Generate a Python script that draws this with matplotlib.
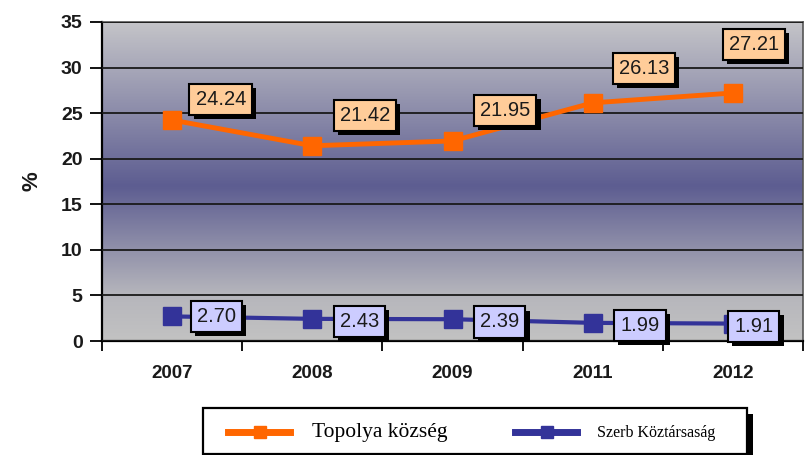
import numpy as np
import matplotlib
matplotlib.use("Agg")
import matplotlib.pyplot as plt
from matplotlib.colors import LinearSegmentedColormap
from matplotlib.lines import Line2D
from matplotlib.patches import Rectangle
import matplotlib.patheffects as pe

years = ["2007", "2008", "2009", "2011", "2012"]
topolya = [24.24, 21.42, 21.95, 26.13, 27.21]
szerbia = [2.70, 2.43, 2.39, 1.99, 1.91]
series_names = ["Topolya község", "Szerb Köztársaság"]

# label offsets (in points) from each marker
top_offsets = [(35, 15), (38, 22), (38, 22), (37, 25), (15, 35)]
srb_offsets = [(32, 0), (34, -2), (34, -2), (34, -2), (15, -2)]

W, H = 809, 455
fig = plt.figure(figsize=(W / 100, H / 100), dpi=100)
ax = fig.add_axes([102 / W, 1 - 341 / H, 701 / W, 319 / H])

x = np.arange(len(years)) + 0.5

# background gradient (gray -> dark purple -> gray)
cmap = LinearSegmentedColormap.from_list(
    "bg", [(0.0, "#c2c2c2"), (5 / 35, "#b6b6bc"), (17 / 35, "#5d5d91"),
           (1.0, "#c4c4c8")])
grad = np.linspace(0, 1, 256).reshape(-1, 1)
ax.imshow(grad, cmap=cmap, aspect="auto", origin="lower",
          extent=[0, len(years), 0, 35], zorder=0)

ax.set_xlim(0, len(years))
ax.set_ylim(0, 35)
ax.set_yticks(np.arange(0, 36, 5))
ax.yaxis.grid(True, color="#1a1a1a", linewidth=1.3)
ax.set_axisbelow(False)
for gl in ax.get_ygridlines():
    gl.set_zorder(1)

ax.plot(x, topolya, color="#ff6600", linewidth=3.5, marker="s",
        markersize=13.5, zorder=3)
ax.plot(x, szerbia, color="#333399", linewidth=3, marker="s",
        markersize=13, zorder=3)

shadow = [pe.SimplePatchShadow(offset=(3, -3), shadow_rgbFace="black", alpha=1.0),
          pe.Normal()]
for vals, offs, fc in [(topolya, top_offsets, "#ffcc99"),
                       (szerbia, srb_offsets, "#ccccff")]:
    for xi, v, off in zip(x, vals, offs):
        t = ax.annotate(f"{v:.2f}", (xi, v), xytext=off, textcoords="offset points",
                        ha="center", va="center", fontsize=14.5, color="#1a1a1a",
                        family="Liberation Sans",
                        bbox=dict(boxstyle="square,pad=0.3", fc=fc,
                                  ec="black", lw=1.5), zorder=5)
        t.get_bbox_patch().set_path_effects(shadow)

ax.set_xticks(np.arange(len(years) + 1))
ax.set_xticklabels([])
ax.set_xticks(x, minor=True)
ax.set_xticklabels(years, minor=True, fontsize=13.5, fontweight="bold",
                   color="#1a1a1a", family="Liberation Sans")
ax.tick_params(axis="x", which="major", length=7, width=1.3, direction="out")
ax.tick_params(axis="x", which="minor", length=0, pad=17)
ax.tick_params(axis="y", length=9, width=1.3, pad=5)
for lbl in ax.get_yticklabels():
    lbl.set_fontsize(14)
    lbl.set_fontweight("bold")
    lbl.set_family("Liberation Sans")
    lbl.set_color("#1a1a1a")

ax.set_ylabel("%", fontsize=16, fontweight="bold", color="#1a1a1a",
              family="Liberation Sans", labelpad=13)

for side in ["left", "bottom"]:
    ax.spines[side].set_linewidth(1.6)
    ax.spines[side].set_color("black")
for side in ["top", "right"]:
    ax.spines[side].set_color("#555555")
    ax.spines[side].set_linewidth(1.2)

# legend box, drawn by hand in figure pixels
def fx(px):
    return px / W

def fy(py):
    return 1 - py / H

box = Rectangle((fx(203), fy(454)), fx(747) - fx(203), fy(408) - fy(454),
                transform=fig.transFigure, fc="white", ec="black", lw=1.6,
                zorder=10)
box.set_path_effects([pe.SimplePatchShadow(offset=(4, -4), shadow_rgbFace="black",
                                           alpha=1.0), pe.Normal()])
fig.add_artist(box)
for (x0, x1, xm), col in [((228, 290, 260), "#ff6600"), ((515, 577, 547), "#333399")]:
    fig.add_artist(Line2D([fx(x0), fx(x1)], [fy(432), fy(432)], color=col, lw=5,
                          transform=fig.transFigure, zorder=11))
    fig.add_artist(Line2D([fx(xm)], [fy(432)], color=col, marker="s", markersize=9,
                          transform=fig.transFigure, zorder=11))
fig.text(fx(312), fy(432), series_names[0], family="Liberation Serif", fontsize=15.5,
         va="center", ha="left", zorder=12)
fig.text(fx(597), fy(433), series_names[1], family="Liberation Serif", fontsize=11.5,
         va="center", ha="left", zorder=12)

fig.savefig("out.png", dpi=100)
